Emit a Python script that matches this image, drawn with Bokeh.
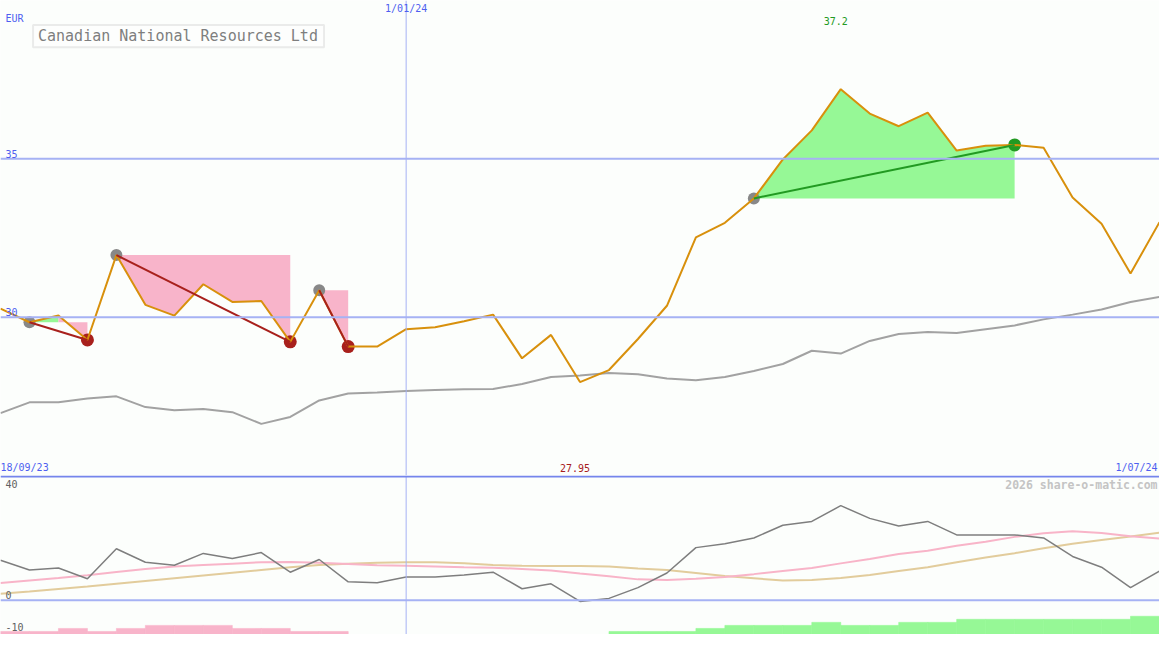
import pandas as pd
from bokeh.plotting import figure
from bokeh.models import Range1d, Span, Label, BoxAnnotation
from bokeh.layouts import column
from bokeh.embed import file_html
from bokeh.resources import INLINE

# ---------------- data ----------------
dates = pd.date_range("2023-09-25", periods=41, freq="7D")
price = [30.27, 29.84, 30.05, 29.28, 31.96, 30.39, 30.05, 31.04, 30.48, 30.51,
         29.22, 30.85, 29.07, 29.07, 29.62, 29.68, 29.87, 30.08, 28.70, 29.44,
         27.95, 28.33, 29.31, 30.36, 32.52, 32.98, 33.75, 34.98, 35.90, 37.20,
         36.43, 36.03, 36.46, 35.26, 35.41, 35.44, 35.35, 33.78, 32.95, 31.38, 33.00]
avg = [26.97, 27.31, 27.31, 27.43, 27.50, 27.16, 27.06, 27.10, 27.00, 26.63,
       26.85, 27.37, 27.59, 27.62, 27.67, 27.70, 27.72, 27.73, 27.89, 28.11,
       28.16, 28.24, 28.20, 28.06, 28.01, 28.11, 28.30, 28.52, 28.94, 28.85,
       29.25, 29.47, 29.53, 29.50, 29.62, 29.74, 29.93, 30.08, 30.24, 30.48, 30.64]
osc = [14.5, 11.0, 11.7, 7.8, 18.7, 13.8, 12.7, 17.0, 15.2, 17.3,
       10.2, 14.8, 6.7, 6.4, 8.5, 8.5, 9.2, 10.2, 4.2, 6.0,
       -0.4, 0.7, 4.6, 9.9, 19.1, 20.5, 22.6, 27.2, 28.6, 34.3,
       29.7, 26.9, 28.6, 23.7, 23.7, 23.7, 22.6, 15.9, 12.0, 4.6, 10.6]
osc_fast = [6.3, 7.2, 8.1, 9.1, 10.3, 11.4, 12.3, 12.8, 13.3, 13.8,
            13.9, 13.6, 13.2, 12.7, 12.5, 12.3, 12.0, 11.8, 11.4, 10.8,
            9.7, 8.7, 7.6, 7.4, 7.8, 8.5, 9.5, 10.6, 11.7, 13.4,
            15.0, 16.8, 18.0, 19.8, 21.2, 23.0, 24.3, 25.0, 24.4, 23.2, 22.4]
osc_slow = [2.4, 3.2, 4.1, 5.0, 6.0, 7.0, 8.0, 9.0, 10.0, 11.0,
            12.0, 12.8, 13.3, 13.6, 13.8, 13.8, 13.4, 12.8, 12.5, 12.4,
            12.4, 12.3, 11.5, 11.0, 9.9, 8.8, 8.0, 7.2, 7.4, 8.1,
            9.2, 10.6, 12.0, 13.8, 15.5, 17.1, 18.9, 20.5, 21.9, 23.1, 24.5]
# one value per weekly interval (negative = pink, positive = green)
hist = [-1, -1, -2, -1, -2, -3, -3, -3, -2, -2, -1, -1,
        0, 0, 0, 0, 0, 0, 0, 0, 0,
        1, 1, 1, 2, 3, 3, 3, 4, 3, 3, 4, 4, 5, 5, 5, 5, 5, 5, 6]
entries = [1, 4, 11, 26]
exits = [3, 10, 12, 35]
date_labels = ["18/09/23", "1/01/24", "1/07/24"]
marker_date = "2024-01-01"
price_ticks = [35, 30]
osc_ticks = [40, 0, -10]
title = "Canadian National Resources Ltd"
currency = "EUR"
watermark = "2026 share-o-matic.com"

# ---------------- styling ----------------
BG = "#FCFEFC"
GRID = "#A6B2F4"
SEP = "#7585EC"
BLUE_TXT = "#4E5EF0"
ORANGE = "#D8900C"
MA_GREY = "#A2A2A2"
OSC_C = "#7E7E7E"
PINK_LINE = "#F8B4C8"
TAN = "#E2CC9C"
FILL_PINK = "#F8B4CA"
FILL_GREEN = "#96F896"
ENTRY_C = "#888888"
LOSS_C = "#A8201C"
GAIN_C = "#229A22"
FONT = "DejaVu Sans Mono"

W, H_TOP, H_LOW = 1159, 475, 159
REF_W, REF_TOP, REF_H = 1175, 487, 650
PRICE_LO, PRICE_HI = 25.0, 40.0
OSC_LO, OSC_HI = -12.37, 45.23
BAR_UNIT = 1.1

epoch = pd.Timestamp("1970-01-01")
def ms(d):
    return (pd.Timestamp(d) - epoch) / pd.Timedelta("1ms")

xs = [ms(d) for d in dates]
X0, X1 = xs[0], xs[-1]
WEEK = xs[1] - xs[0]

def fx(px):
    return X0 + (X1 - X0) * px / REF_W

def fy_top(py):
    return PRICE_HI - (PRICE_HI - PRICE_LO) * py / REF_TOP

def fy_low(py):
    return OSC_HI - (OSC_HI - OSC_LO) * (py - REF_TOP) / (REF_H - REF_TOP)

x_range = Range1d(X0, X1)

def make_fig(h, y0, y1):
    f = figure(width=W, height=h, x_range=x_range, y_range=Range1d(y0, y1),
               output_backend="svg", toolbar_location=None,
               x_axis_location=None, y_axis_location=None,
               min_border=0, min_border_left=0, min_border_right=0,
               min_border_top=0, min_border_bottom=0,
               background_fill_color=BG, border_fill_color=BG,
               outline_line_color=None)
    f.grid.visible = False
    return f

top = make_fig(H_TOP, PRICE_LO, PRICE_HI)
low = make_fig(H_LOW, OSC_LO, OSC_HI)

# ---------- top panel ----------
for t in price_ticks:
    top.add_layout(Span(location=t, dimension="width", line_color=GRID, line_width=2))
top.add_layout(Span(location=ms(marker_date), dimension="height", line_color=GRID, line_width=1))

# trade fills: one polygon per run of same-coloured segments
pxs, pys, pcol = [], [], []
for e, x in zip(entries, exits):
    lvl = price[e]
    run_start = e
    for j in range(e, x):
        col = FILL_GREEN if price[j + 1] >= lvl else FILL_PINK
        nxt = None if j + 1 == x else (FILL_GREEN if price[j + 2] >= lvl else FILL_PINK)
        if nxt != col:
            idx = list(range(run_start, j + 2))
            pxs.append([xs[idx[0]]] + [xs[k] for k in idx] + [xs[idx[-1]]])
            pys.append([lvl] + [price[k] for k in idx] + [lvl])
            pcol.append(col)
            run_start = j + 1
top.patches(pxs, pys, fill_color=pcol, line_color=None)

top.line(xs, avg, line_color=MA_GREY, line_width=2)

# markers
top.scatter([xs[e] for e in entries], [price[e] for e in entries], size=12,
            fill_color=ENTRY_C, line_color=None)
top.scatter([xs[x] for x in exits], [price[x] for x in exits], size=13,
            fill_color=[GAIN_C if price[x] >= price[e] else LOSS_C for e, x in zip(entries, exits)],
            line_color=None)

top.line(xs, price, line_color=ORANGE, line_width=2)

for e, x in zip(entries, exits):
    c = GAIN_C if price[x] >= price[e] else LOSS_C
    top.line([xs[e], xs[x]], [price[e], price[x]], line_color=c, line_width=2)

def lab(fig, x, y, text, color, size="10px", align="left", style="normal"):
    fig.add_layout(Label(x=x, y=y, text=text, text_color=color, text_font=FONT,
                         text_font_size=size, text_align=align, text_baseline="middle",
                         text_font_style=style))

lab(top, fx(5), fy_top(18), currency, BLUE_TXT)
for t in price_ticks:
    lab(top, fx(5), t + (PRICE_HI - PRICE_LO) * 5 / REF_TOP, str(t), BLUE_TXT)
lab(top, ms(marker_date), fy_top(8), date_labels[1], BLUE_TXT, align="center")
lab(top, fx(0), fy_top(479), date_labels[0], BLUE_TXT)
lab(top, fx(1173), fy_top(479), date_labels[2], BLUE_TXT, align="right")

imax = price.index(max(price))
imin = price.index(min(price))
lab(top, xs[imax] - (X1 - X0) * 5 / REF_W, fy_top(21), f"{max(price):g}", GAIN_C, align="center")
lab(top, xs[imin] - (X1 - X0) * 5 / REF_W, fy_top(479), f"{min(price):g}", LOSS_C, align="center")

top.add_layout(BoxAnnotation(left=fx(33), right=fx(328), top=fy_top(25), bottom=fy_top(48),
                             fill_color="#FDFEFD", fill_alpha=1.0,
                             line_color="#C0C0C0", line_width=2))
lab(top, fx(38), fy_top(36.5), title, "#7E7E7E", size="15px")

# ---------- lower panel ----------
low.add_layout(Span(location=0, dimension="width", line_color=GRID, line_width=2))
low.add_layout(Span(location=ms(marker_date), dimension="height", line_color=GRID, line_width=1))
low.add_layout(Span(location=fy_low(488), dimension="width", line_color=SEP, line_width=2))

bx, btop, bcol = [], [], []
for i, v in enumerate(hist):
    if v == 0:
        continue
    bx.append(xs[i] + WEEK / 2)
    btop.append(OSC_LO + abs(v) * BAR_UNIT)
    bcol.append(FILL_GREEN if v > 0 else FILL_PINK)
low.vbar(x=bx, width=WEEK, bottom=OSC_LO, top=btop, fill_color=bcol,
         line_color=bcol, line_width=0.6)

low.line(xs, osc_slow, line_color=TAN, line_width=2)
low.line(xs, osc_fast, line_color=PINK_LINE, line_width=2)
low.line(xs, osc, line_color=OSC_C, line_width=1.5)

lab(low, fx(1173), fy_low(497), watermark, "#C4C4C4", size="11.5px", align="right", style="bold")
lab(low, fx(5), fy_low(496), str(osc_ticks[0]), "#606060")
lab(low, fx(5), osc_ticks[1] + (OSC_HI - OSC_LO) * 5.5 / (REF_H - REF_TOP), str(osc_ticks[1]), "#606060")
lab(low, fx(5), fy_low(642), str(osc_ticks[2]), "#606060")

page = column(top, low, spacing=0)
open("out.html", "w").write(file_html(page, INLINE))
